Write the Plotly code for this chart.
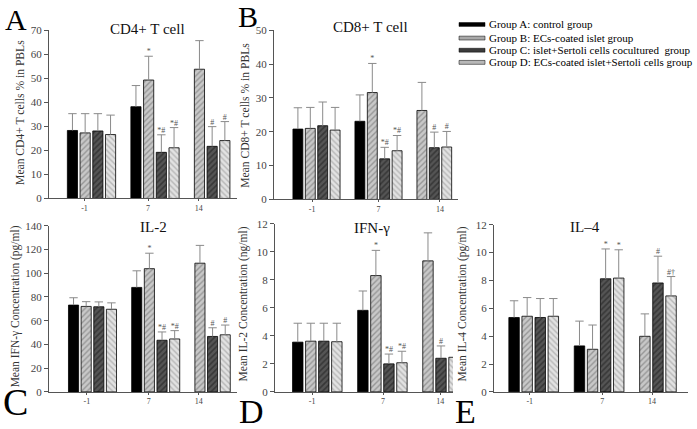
import plotly.graph_objects as go

W, H = 697, 429
FONT = "Liberation Serif, Times New Roman, serif"

DAYS = ["-1", "7", "14"]
GROUP_NAMES = [
    "Group A: control group",
    "Group B: ECs-coated islet group",
    "Group C: islet+Sertoli cells cocultured  group",
    "Group D: ECs-coated islet+Sertoli cells group",
]

# ---- data (mean, upper SD) per group, per day (-1, 7, 14) ----
CD4_A = [28.3, 38.2, None]; CD4_A_ERR = [7.0, 8.8, None]
CD4_B = [27.3, 49.3, 53.8]; CD4_B_ERR = [8.0, 9.9, 11.9]
CD4_C = [28.1, 19.2, 21.7]; CD4_C_ERR = [7.2, 7.3, 8.2]
CD4_D = [26.6, 21.1, 24.1]; CD4_D_ERR = [8.1, 8.4, 7.9]

CD8_A = [20.8, 23.1, None]; CD8_A_ERR = [6.3, 7.8, None]
CD8_B = [21.0, 31.6, 26.3]; CD8_B_ERR = [6.2, 8.6, 8.3]
CD8_C = [21.8, 12.0, 15.3]; CD8_C_ERR = [7.0, 3.4, 4.6]
CD8_D = [20.5, 14.4, 15.5]; CD8_D_ERR = [6.7, 4.5, 4.6]

IL2_A = [73.1, 88.0, None]; IL2_A_ERR = [6.2, 14.0, None]
IL2_B = [72.0, 103.8, 108.4]; IL2_B_ERR = [4.0, 13.0, 15.0]
IL2_C = [71.7, 43.5, 46.7]; IL2_C_ERR = [4.1, 7.0, 7.3]
IL2_D = [69.6, 44.6, 48.1]; IL2_D_ERR = [5.4, 7.0, 8.2]

IFN_A = [3.55, 5.82, None]; IFN_A_ERR = [1.35, 1.38, None]
IFN_B = [3.62, 8.30, 9.35]; IFN_B_ERR = [1.28, 1.80, 2.00]
IFN_C = [3.62, 2.00, 2.40]; IFN_C_ERR = [1.28, 0.70, 0.88]
IFN_D = [3.58, 2.08, 2.47]; IFN_D_ERR = [1.32, 0.82, 0.80]

IL4_A = [5.34, 3.30, None]; IL4_A_ERR = [1.20, 1.78, None]
IL4_B = [5.43, 3.06, 3.99]; IL4_B_ERR = [1.34, 1.74, 1.61]
IL4_C = [5.34, 8.12, 7.82]; IL4_C_ERR = [1.36, 2.14, 1.92]
IL4_D = [5.43, 8.17, 6.89]; IL4_D_ERR = [1.27, 2.03, 1.39]

# significance marks
MARKS_STD = [["", "", ""], ["", "*", ""], ["", "*#", "#"], ["", "*#", "#"]]
MARKS_IFN = [["", "", ""], ["", "*", ""], ["", "*#", "#"], ["", "*#", ""]]
MARKS_IL4 = [["", "", ""], ["", "", ""], ["", "*", "#"], ["", "*", "#\u2020"]]

# ---- styling / layout constants ----
GPOS = [0, 1, 1.8]                 # group positions on x axis
OFFS = [-0.3, -0.1, 0.1, 0.3]      # bar offsets inside a group
BAR_W = 0.16
STYLES = [
    dict(color="#000000", pattern=None),
    dict(color="#c4c4c4", pattern=dict(shape="/", bgcolor="#c8c8c8", fgcolor="#666666", size=4, solidity=0.35)),
    dict(color="#444444", pattern=dict(shape="/", bgcolor="#555555", fgcolor="#1a1a1a", size=4, solidity=0.4)),
    dict(color="#dddddd", pattern=dict(shape="\\", bgcolor="#e2e2e2", fgcolor="#8a8a8a", size=4, solidity=0.35)),
]
LEGEND_FILL = ["#000000", "#a9a9a9", "#3c3c3c", "#b8b8b8"]
ERR_COLOR = "#8a8a8a"

PANELS = [
    dict(vals=[CD4_A, CD4_B, CD4_C, CD4_D], errs=[CD4_A_ERR, CD4_B_ERR, CD4_C_ERR, CD4_D_ERR],
         marks=MARKS_STD, title="CD4+ T cell", ylabel="Mean CD4+ T cells % in PBLs", letter="A",
         yr=[0, 70], dt=10, xpx=[49, 237], ypx=[198, 25], c0=91.5, s=63.5, tick=[-0.11, -0.11, -0.11],
         title_px=(147, 24), ylab_px=(21, 110), ylab_size=11.6, letter_px=(3, 14), letter_size=30),
    dict(vals=[CD8_A, CD8_B, CD8_C, CD8_D], errs=[CD8_A_ERR, CD8_B_ERR, CD8_C_ERR, CD8_D_ERR],
         marks=MARKS_STD, title="CD8+ T cell", ylabel="Mean CD8+ T cells % in PBLs", letter="B",
         yr=[0, 50], dt=10, xpx=[274, 458], ypx=[199, 25], c0=316.5, s=62.0, tick=[-0.07, 0.0, 0.19],
         title_px=(370, 22), ylab_px=(246, 113), ylab_size=11.6, letter_px=(236, 11), letter_size=30),
    dict(vals=[IL2_A, IL2_B, IL2_C, IL2_D], errs=[IL2_A_ERR, IL2_B_ERR, IL2_C_ERR, IL2_D_ERR],
         marks=MARKS_STD, title="IL-2", ylabel="Mean IFN-\u03b3 Concentration (pg/ml)", letter="C",
         yr=[0, 140], dt=20, xpx=[49, 237], ypx=[397, 226], c0=92.5, s=63.2, tick=[-0.09, -0.11, -0.12],
         title_px=(153, 227), ylab_px=(15, 309), ylab_size=11.5, letter_px=(1, 407), letter_size=38),
    dict(vals=[IFN_A, IFN_B, IFN_C, IFN_D], errs=[IFN_A_ERR, IFN_B_ERR, IFN_C_ERR, IFN_D_ERR],
         marks=MARKS_IFN, title="IFN-\u03b3", ylabel="Mean IL-2 Concentration (ng/ml)", letter="D",
         yr=[0, 12], dt=2, xpx=[275, 453], ypx=[397, 224], c0=317.3, s=65.1, tick=[-0.08, 0.01, 0.09],
         title_px=(372, 228), ylab_px=(243, 307), ylab_size=11.5, letter_px=(237, 417), letter_size=34),
    dict(vals=[IL4_A, IL4_B, IL4_C, IL4_D], errs=[IL4_A_ERR, IL4_B_ERR, IL4_C_ERR, IL4_D_ERR],
         marks=MARKS_IL4, title="IL\u20134", ylabel="Mean IL-4 Concentration (pg/ml)", letter="E",
         yr=[0, 12], dt=2, xpx=[494, 688], ypx=[397, 225], c0=533.7, s=65.4, tick=[-0.06, 0.05, 0.01],
         title_px=(585, 227), ylab_px=(462, 307), ylab_size=11.5, letter_px=(453, 417), letter_size=34),
]


def px_x(x):
    return x / W


def px_y(y):
    return 1 - y / H


fig = go.Figure()
annotations = []
shapes = []

for i, p in enumerate(PANELS):
    n = "" if i == 0 else str(i + 1)
    xref, yref = "x" + n, "y" + n
    for g in range(4):
        xs = [GPOS[k] + OFFS[g] for k in range(3)]
        st = STYLES[g]
        marker = dict(color=st["color"], line=dict(color="#000000", width=0.8))
        if st["pattern"]:
            marker["pattern"] = st["pattern"]
        fig.add_trace(go.Bar(x=xs, y=p["vals"][g], width=BAR_W, marker=marker,
                             xaxis=xref, yaxis=yref, showlegend=False, hoverinfo="skip"))
        # error bars (upper only)
        ex, ey, cx, cy, tx, ty, tt = [], [], [], [], [], [], []
        for k in range(3):
            v, e = p["vals"][g][k], p["errs"][g][k]
            if v is None:
                continue
            ex += [xs[k], xs[k], None]
            ey += [v, v + e, None]
            cx.append(xs[k]); cy.append(v + e)
            if p["marks"][g][k]:
                tx.append(xs[k]); ty.append(v + e); tt.append(p["marks"][g][k])
        fig.add_trace(go.Scatter(x=ex, y=ey, mode="lines", line=dict(color=ERR_COLOR, width=1),
                                 xaxis=xref, yaxis=yref, showlegend=False, hoverinfo="skip"))
        fig.add_trace(go.Scatter(x=cx, y=cy, mode="markers",
                                 marker=dict(symbol="line-ew", size=6, line=dict(color=ERR_COLOR, width=1)),
                                 xaxis=xref, yaxis=yref, showlegend=False, hoverinfo="skip"))
        if tt:
            fig.add_trace(go.Scatter(x=tx, y=ty, mode="text", text=tt, textposition="top center",
                                     textfont=dict(family=FONT, size=8, color="#555555"),
                                     xaxis=xref, yaxis=yref, showlegend=False, hoverinfo="skip",
                                     cliponaxis=False))

    x0, x1 = p["xpx"]
    xr = [(x0 - p["c0"]) / p["s"], (x1 - p["c0"]) / p["s"]]
    yb, yt = p["ypx"]
    fig.update_layout(**{
        "xaxis" + n: dict(domain=[px_x(x0), px_x(x1)], range=xr, anchor=yref,
                          tickvals=[GPOS[k] + p["tick"][k] for k in range(3)], ticktext=DAYS,
                          showline=True, linecolor="#555555", linewidth=1, ticks="outside",
                          ticklen=2, tickcolor="#555555", showgrid=False, zeroline=False,
                          tickfont=dict(family=FONT, size=8, color="#444444")),
        "yaxis" + n: dict(domain=[px_y(yb), px_y(yt)], range=p["yr"], dtick=p["dt"], anchor=xref,
                          showline=True, linecolor="#555555", linewidth=1, ticks="outside",
                          ticklen=4, tickcolor="#555555", showgrid=False, zeroline=False,
                          tickfont=dict(family=FONT, size=11, color="#444444")),
    })
    annotations.append(dict(text=p["title"], x=px_x(p["title_px"][0]), y=px_y(p["title_px"][1]),
                            xref="paper", yref="paper", showarrow=False, xanchor="center",
                            yanchor="middle", font=dict(family=FONT, size=15, color="#111111")))
    annotations.append(dict(text=p["ylabel"], x=px_x(p["ylab_px"][0]), y=px_y(p["ylab_px"][1]),
                            xref="paper", yref="paper", showarrow=False, textangle=-90,
                            xanchor="center", yanchor="middle",
                            font=dict(family=FONT, size=p["ylab_size"], color="#333333")))
    annotations.append(dict(text=p["letter"], x=px_x(p["letter_px"][0]), y=px_y(p["letter_px"][1]),
                            xref="paper", yref="paper", showarrow=False, xanchor="left",
                            yanchor="middle", font=dict(family=FONT, size=p["letter_size"], color="#000000")))

# legend drawn as swatches + labels
LEG_ROWS = [19, 33, 45.5, 58]
for g in range(4):
    yc = LEG_ROWS[g]
    shapes.append(dict(type="rect", xref="paper", yref="paper",
                       x0=px_x(459), x1=px_x(485), y0=px_y(yc + 2), y1=px_y(yc - 2),
                       fillcolor=LEGEND_FILL[g], line=dict(color="#000000", width=0.5)))
    annotations.append(dict(text=GROUP_NAMES[g], x=px_x(487), y=px_y(yc), xref="paper", yref="paper",
                            showarrow=False, xanchor="left", yanchor="middle",
                            font=dict(family=FONT, size=11, color="#000000")))

fig.update_layout(width=W, height=H, margin=dict(l=0, r=0, t=0, b=0),
                  paper_bgcolor="white", plot_bgcolor="white", barmode="overlay",
                  annotations=annotations, shapes=shapes, showlegend=False)

fig.write_html("out.html", config={"displayModeBar": False},
               post_script="document.body.style.margin='0px';")
